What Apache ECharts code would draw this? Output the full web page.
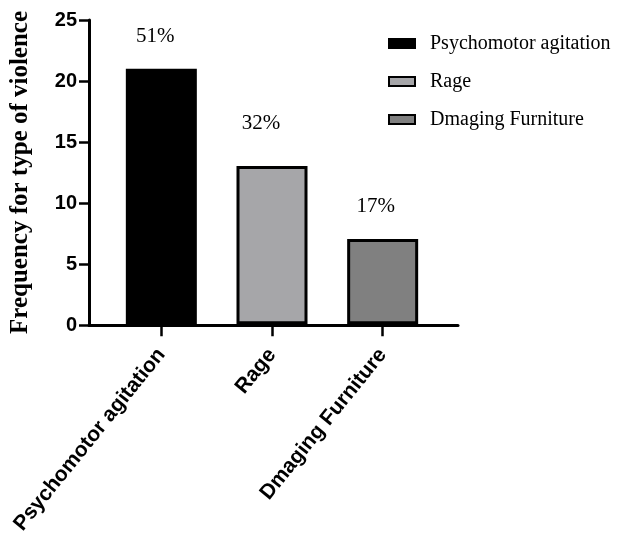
<!DOCTYPE html>
<html>
<head>
<meta charset="utf-8">
<title>Frequency for type of violence</title>
<script src="https://cdn.jsdelivr.net/npm/echarts@6/dist/echarts.min.js"></script>
<style>
  html, body { margin: 0; padding: 0; background: #fff; }
  #chart { width: 626px; height: 537px; }
</style>
</head>
<body>
<div id="chart"></div>
<script>
// Types of violence and how often each was recorded
var categories = ['Psychomotor agitation', 'Rage', 'Dmaging Furniture'];
var counts = [21, 13, 7];
var yTicks = [0, 5, 10, 15, 20, 25];

// Styling per bar
var barColors = ['#000000', '#a6a6a9', '#808080'];
var labelOffsets = [[-6, 0], [-11, -10], [-7, 0]];

var total = counts.reduce(function (a, b) { return a + b; }, 0);
var SERIF = "'Liberation Serif', 'Times New Roman', serif";
var SANS = "'Liberation Sans', Arial, sans-serif";

var series = categories.map(function (name, i) {
  return {
    name: name,
    type: 'bar',
    xAxisIndex: 1,
    yAxisIndex: 1,
    barWidth: 71,
    barGap: '-100%',
    data: categories.map(function (c, j) { return j === i ? counts[j] : '-'; }),
    itemStyle: { color: barColors[i], borderColor: '#000', borderWidth: 3 },
    label: {
      show: true,
      position: 'top',
      distance: 22,
      offset: labelOffsets[i],
      fontFamily: SERIF,
      fontSize: 21,
      color: '#000',
      formatter: function (p) { return Math.round(p.value / total * 100) + '%'; }
    },
    emphasis: { disabled: true }
  };
});

var chart = echarts.init(document.getElementById('chart'), null, { renderer: 'canvas' });
chart.setOption({
  animation: false,
  backgroundColor: '#fff',
  legend: {
    orient: 'vertical',
    left: 383,
    top: 28,
    icon: 'rect',
    itemWidth: 26,
    itemHeight: 9,
    itemGap: 17,
    textStyle: { fontFamily: SERIF, fontSize: 20, color: '#000', lineHeight: 21, padding: [0, 0, 0, 10] },
    data: categories
  },
  grid: [
    { left: 86, width: 372, top: 20, bottom: 212 },
    { left: 106, width: 332, top: 20, bottom: 212 }
  ],
  xAxis: [
    {
      gridIndex: 0,
      type: 'value',
      min: 0, max: 1,
      axisLine: { show: true, lineStyle: { color: '#000', width: 3 } },
      axisTick: { show: false },
      axisLabel: { show: false },
      splitLine: { show: false }
    },
    {
      gridIndex: 1,
      type: 'category',
      data: categories,
      axisLine: { show: false },
      axisTick: { show: true, alignWithLabel: true, length: 12, lineStyle: { color: '#000', width: 2.5 } },
      axisLabel: {
        rotate: 51,
        margin: 27,
        fontFamily: SANS,
        fontWeight: 'bold',
        fontSize: 21,
        color: '#000',
        interval: 0
      }
    }
  ],
  yAxis: [
    {
      gridIndex: 0,
      type: 'value',
      min: yTicks[0],
      max: yTicks[yTicks.length - 1],
      interval: yTicks[1] - yTicks[0],
      name: 'Frequency for type of violence',
      nameLocation: 'middle',
      nameGap: 56,
      nameTextStyle: { fontFamily: SERIF, fontWeight: 'bold', fontSize: 25, color: '#000' },
      axisLine: { show: true, lineStyle: { color: '#000', width: 3 } },
      axisTick: { show: true, length: 10, lineStyle: { color: '#000', width: 2.5 } },
      axisLabel: { margin: 12, fontFamily: SANS, fontWeight: 'bold', fontSize: 20, color: '#000' },
      splitLine: { show: false }
    },
    {
      gridIndex: 1,
      type: 'value',
      min: yTicks[0],
      max: yTicks[yTicks.length - 1],
      show: false,
      splitLine: { show: false }
    }
  ],
  series: series
});
</script>
</body>
</html>
